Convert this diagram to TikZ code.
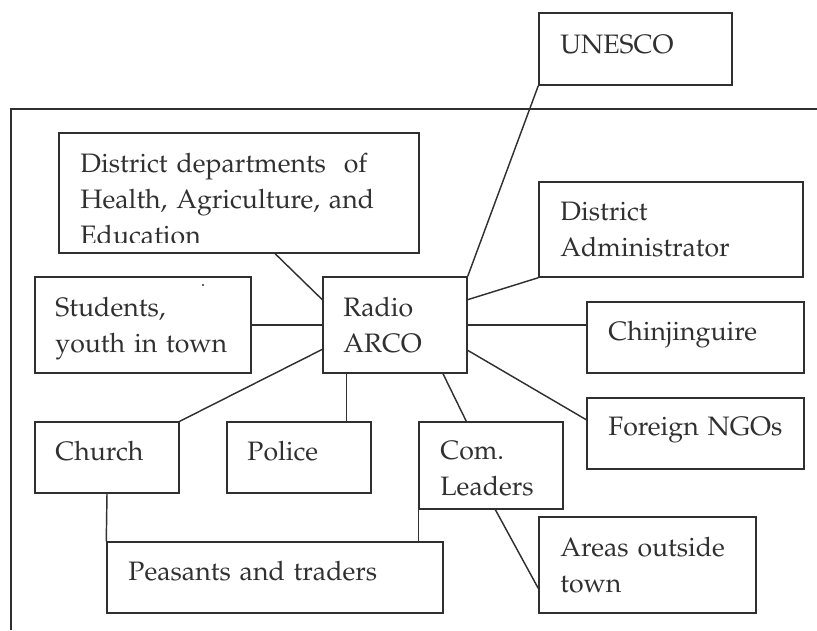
\documentclass[tikz,border=0pt]{standalone}
\usepackage[T1]{fontenc}
\renewcommand{\rmdefault}{ppl}
\usetikzlibrary{calc, fit}

\definecolor{ink}{HTML}{303030}

\begin{document}
\begin{tikzpicture}[x = 0.45pt, y = -0.45pt,
                    box/.style  = {draw=ink, line width=0.65pt, inner sep=0pt},
                    txt/.style  = {anchor=base west, inner sep=0pt, align=left,
                                   text width=200pt, text=ink,
                                   font=\fontsize{12pt}{16.2pt}\selectfont},
                    link/.style = {draw=ink, line width=0.65pt}]

    \useasboundingbox (0,0) rectangle (817,630);

    % frame round the town, only its top and left edges are on the page
    \draw[link] (11,630) -- (11,109) -- (817,109);

    % boxes
    \node[box, fit={(539,13) (732,85)}]    (unesco)   {};
    \node[box, fit={(59,133) (419,253)}]   (dept)     {};
    \node[box, fit={(539,182) (803,277)}]  (admin)    {};
    \node[box, fit={(323,277) (467,373)}]  (radio)    {};
    \node[box, fit={(35,277) (251,373)}]   (students) {};
    \node[box, fit={(587,302) (804,373)}]  (chin)     {};
    \node[box, fit={(587,398) (804,469)}]  (ngo)      {};
    \node[box, fit={(35,422) (179,493)}]   (church)   {};
    \node[box, fit={(227,422) (371,493)}]  (police)   {};
    \node[box, fit={(419,422) (563,509)}]  (com)      {};
    \node[box, fit={(107,542) (443,613)}]  (peasants) {};
    \node[box, fit={(539,517) (756,613)}]  (areas)    {};

    % texts
    \node[txt] (unesco-t)   at (560,53)  {UNESCO};
    \begin{scope}
        \clip (59,133) rectangle (419,242);
        \node[txt] (dept-t) at (80,172)  {District departments\ \ of\\
                                          Health, Agriculture, and\\
                                          Education};
    \end{scope}
    \node[txt] (admin-t)    at (560,220) {District\\Administrator};
    \node[txt] (radio-t)    at (343,316) {Radio\\ARCO};
    \node[txt] (students-t) at (55,316)  {Students,\\youth in town};
    \node[txt] (chin-t)     at (608,340) {Chinjinguire};
    \node[txt] (ngo-t)      at (608,435) {Foreign NGOs};
    \node[txt] (church-t)   at (55,460)  {Church};
    \node[txt] (police-t)   at (247,460) {Police};
    \node[txt] (com-t)      at (440,459) {Com.\\Leaders};
    \node[txt] (peasants-t) at (128,580) {Peasants and traders};
    \node[txt] (areas-t)    at (560,556) {Areas outside\\town};

    \fill[ink] (203,285) circle (0.5pt);

    % links
    \coordinate (rp) at ($(radio.south west)!0.167!(radio.south east)$);

    \draw[link] (unesco.south west) -- (radio.north east);
    \draw[link] (admin.south west) -- ($(radio.north east)!0.24!(radio.south east)$);
    \draw[link] (radio.east) -- (radio.east -| chin.west);
    \draw[link] ($(radio.north east)!0.76!(radio.south east)$) -- ($(ngo.north west)!0.31!(ngo.south west)$);
    \draw[link] ($(radio.south west)!0.83!(radio.south east)$) -- ($(com.north west)!0.33!(com.north east)$);
    \draw[link] (rp) -- (rp |- police.north);
    \draw[link] ($(radio.north west)!0.75!(radio.south west)$) -- (church.north east);
    \draw[link] (radio.west) -- (students.east);
    \draw[link] ($(dept.south west)!0.6!(dept.south east)$) -- ($(radio.north west)!0.24!(radio.south west)$);
    \draw[link] (church.south) -- (peasants.north west);
    \draw[link] (com.south west) -- (com.south west |- peasants.north);
    \draw[link] ($(com.south west)!0.53!(com.south east)$) -- ($(areas.north west)!0.74!(areas.south west)$);

\end{tikzpicture}
\end{document}
